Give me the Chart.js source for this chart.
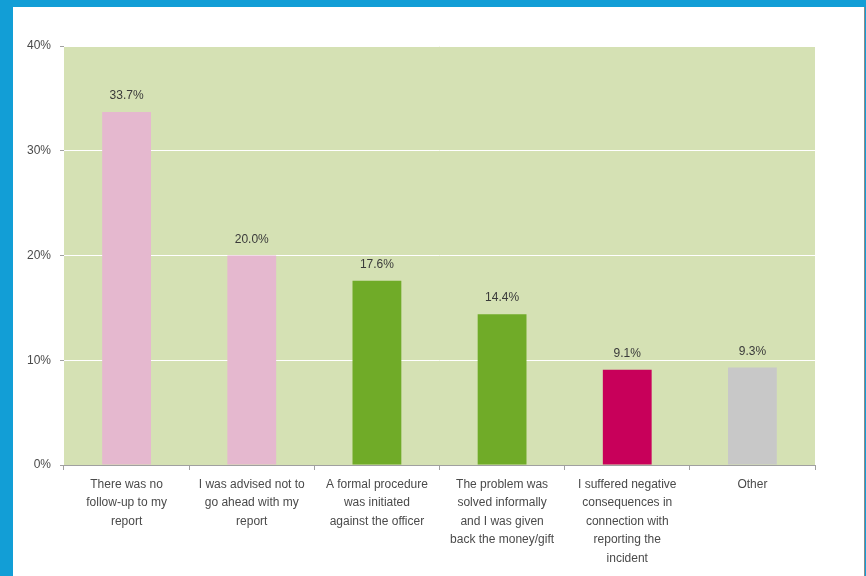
<!DOCTYPE html>
<html>
<head>
<meta charset="utf-8">
<script src="https://cdn.jsdelivr.net/npm/chart.js@4"></script>
<style>
  html, body { margin: 0; padding: 0; }
  body { width: 866px; height: 576px; background: #129ed6; position: relative; overflow: hidden; }
  #panel { position: absolute; left: 13px; top: 7px; width: 852px; height: 569px; background: #fff;
           border-right: 1px solid #8a8a8a; box-sizing: border-box; }
  #myChart { position: absolute; left: 0; top: 0; }
</style>
</head>
<body>
<div id="panel"><canvas id="myChart" width="851" height="569"></canvas></div>
<script>
// chart data
const labels = [
	["There was no", "follow-up to my", "report"],
	["I was advised not to", "go ahead with my", "report"],
	["A formal procedure", "was initiated", "against the officer"],
	["The problem was", "solved informally", "and I was given", "back the money/gift"],
	["I suffered negative", "consequences in", "connection with", "reporting the", "incident"],
	["Other"],
]
const values = [33.7, 20.0, 17.6, 14.4, 9.1, 9.3]
const barColors = ["#e5b8cf", "#e5b8cf", "#70ab28", "#70ab28", "#c8005a", "#c8c8c8"]
const yTicks = [0, 10, 20, 30, 40]

const fontFamily = "'Liberation Sans', Arial, sans-serif"

// green plot background
const plotBg = {
	id: "plotBg",
	beforeDraw: chart => {
		const { ctx, chartArea } = chart
		ctx.save()
		ctx.fillStyle = "#d5e1b4"
		ctx.fillRect(chartArea.left, chartArea.top, chartArea.right - chartArea.left, chartArea.bottom - chartArea.top)
		ctx.restore()
	},
}

// value labels above bars
const valueLabels = {
	id: "valueLabels",
	afterDatasetsDraw: chart => {
		const ctx = chart.ctx
		const meta = chart.getDatasetMeta(0)
		ctx.save()
		ctx.font = "12px " + fontFamily
		ctx.fillStyle = "#3a3a3a"
		ctx.textAlign = "center"
		ctx.textBaseline = "middle"
		meta.data.forEach((bar, i) => {
			ctx.fillText(values[i].toFixed(1) + "%", bar.x, bar.y - 16)
		})
		ctx.restore()
	},
}

const chart = document.querySelector("#myChart").getContext("2d")
const myChart = new Chart(chart, {
	type: "bar",
	data: {
		labels: labels,
		datasets: [
			{
				data: values,
				backgroundColor: barColors,
				borderWidth: 0,
				barPercentage: 0.39,
				categoryPercentage: 1,
			},
		],
	},
	options: {
		responsive: false,
		animation: false,
		layout: { padding: { top: 39, right: 49, bottom: 0, left: 0 } },
		plugins: {
			legend: { display: false },
			tooltip: { enabled: false },
		},
		scales: {
			x: {
				afterFit: scale => { scale.height = 111 },
				grid: {
					offset: true,
					drawOnChartArea: false,
					color: "#a0a0a0",
					tickLength: 5,
				},
				border: { color: "#a0a0a0" },
				ticks: {
					autoSkip: false,
					maxRotation: 0,
					minRotation: 0,
					padding: 5,
					color: "#4a4a4a",
					font: { family: fontFamily, size: 12, lineHeight: 1.55 },
				},
			},
			y: {
				min: 0,
				max: 40,
				afterFit: scale => { scale.width = 51 },
				afterBuildTicks: scale => { scale.ticks = yTicks.map(v => ({ value: v })) },
				grid: {
					color: "#ffffff",
					tickColor: "#a0a0a0",
					tickLength: 4,
				},
				border: { display: false },
				ticks: {
					padding: 9,
					color: "#4a4a4a",
					font: { family: fontFamily, size: 12 },
					callback: v => v + "%",
				},
			},
		},
	},
	plugins: [plotBg, valueLabels],
})
</script>
</body>
</html>
